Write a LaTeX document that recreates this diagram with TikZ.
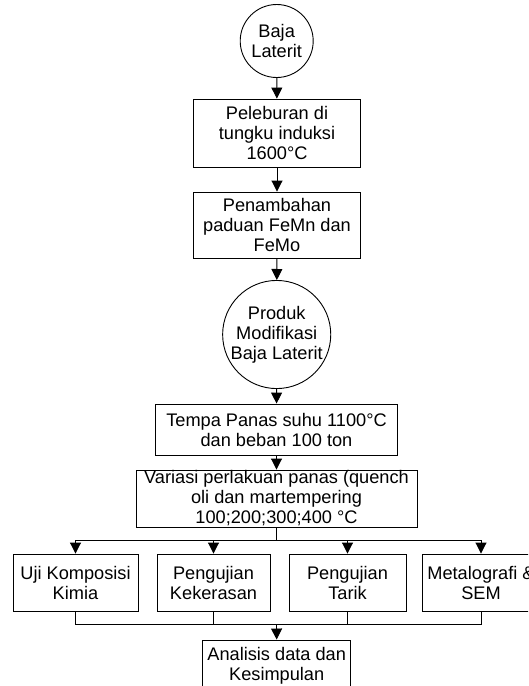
\documentclass[tikz,border=0pt]{standalone}
\usepackage{fontspec}
\setmainfont{Liberation Sans}
\usetikzlibrary{arrows.meta}
\begin{document}
\begin{tikzpicture}[x=1pt,y=-1pt,
  every node/.style={font=\fontsize{18.2}{20}\selectfont, align=center, inner sep=0pt, line width=0.9pt},
  boxnode/.style={draw, rectangle, minimum width=#1},
  circnode/.style={draw, circle, minimum size=#1},
  conn/.style={line width=0.9pt},
  arr/.style={conn, -{Triangle[length=11pt,width=11pt]}}]
\useasboundingbox (0,0) rectangle (528,686);
\clip (0,0) rectangle (528,686);
\fill[white] (0,0) rectangle (528,686);

\node[circnode=73] (c1) at (276.7,41) {Baja\\Laterit};
\node[boxnode=167, minimum height=68] (b1) at (277,133) {Peleburan di\\tungku induksi\\1600°C};
\node[boxnode=167, minimum height=66] (b2) at (277,225) {Penambahan\\paduan FeMn dan\\FeMo};
\node[circnode=103] (c2) at (276.7,334.5) {Produk\\Modifikasi\\Baja Laterit};
\node[boxnode=242, minimum height=51] (b3) at (276.5,429.5) {Tempa Panas suhu 1100°C\\dan beban 100 ton};
\node[boxnode=281, minimum height=57] (b4) at (276.5,498.5) {Variasi perlakuan panas (quench\\oli dan martempering\\100;200;300;400 °C};

\node[boxnode=125, minimum height=57] (u1) at (75.5,582.5) {Uji Komposisi\\Kimia};
\node[boxnode=113, minimum height=57] (u2) at (213.5,582.5) {Pengujian\\Kekerasan};
\node[boxnode=117, minimum height=57] (u3) at (347.5,582.5) {Pengujian\\Tarik};
\node[boxnode=118, minimum height=57] (u4) at (481,582.5) {Metalografi \&\\SEM};

\node[boxnode=148, minimum height=52] (an) at (276.7,666) {Analisis data dan\\Kesimpulan};

\coordinate (bus) at (276.5,540);
\coordinate (join) at (276.5,624.5);

\draw[arr] (c1) -- (b1);
\draw[arr] (b1) -- (b2);
\draw[arr] (b2) -- (c2);
\draw[arr] (c2) -- (b3);
\draw[arr] (b3) -- (b4);

\draw[conn] (b4.south) -- (bus);
\draw[conn] (bus -| u1.north) -- (bus -| u4.north);
\foreach \n in {u1,u2,u3,u4} {
  \draw[arr] (bus -| \n.north) -- (\n.north);
  \draw[conn] (\n.south) -- (join -| \n.south);
}
\draw[conn] (join -| u1.south) -- (join -| u4.south);
\draw[arr] (join) -- (an.north);
\end{tikzpicture}
\end{document}
